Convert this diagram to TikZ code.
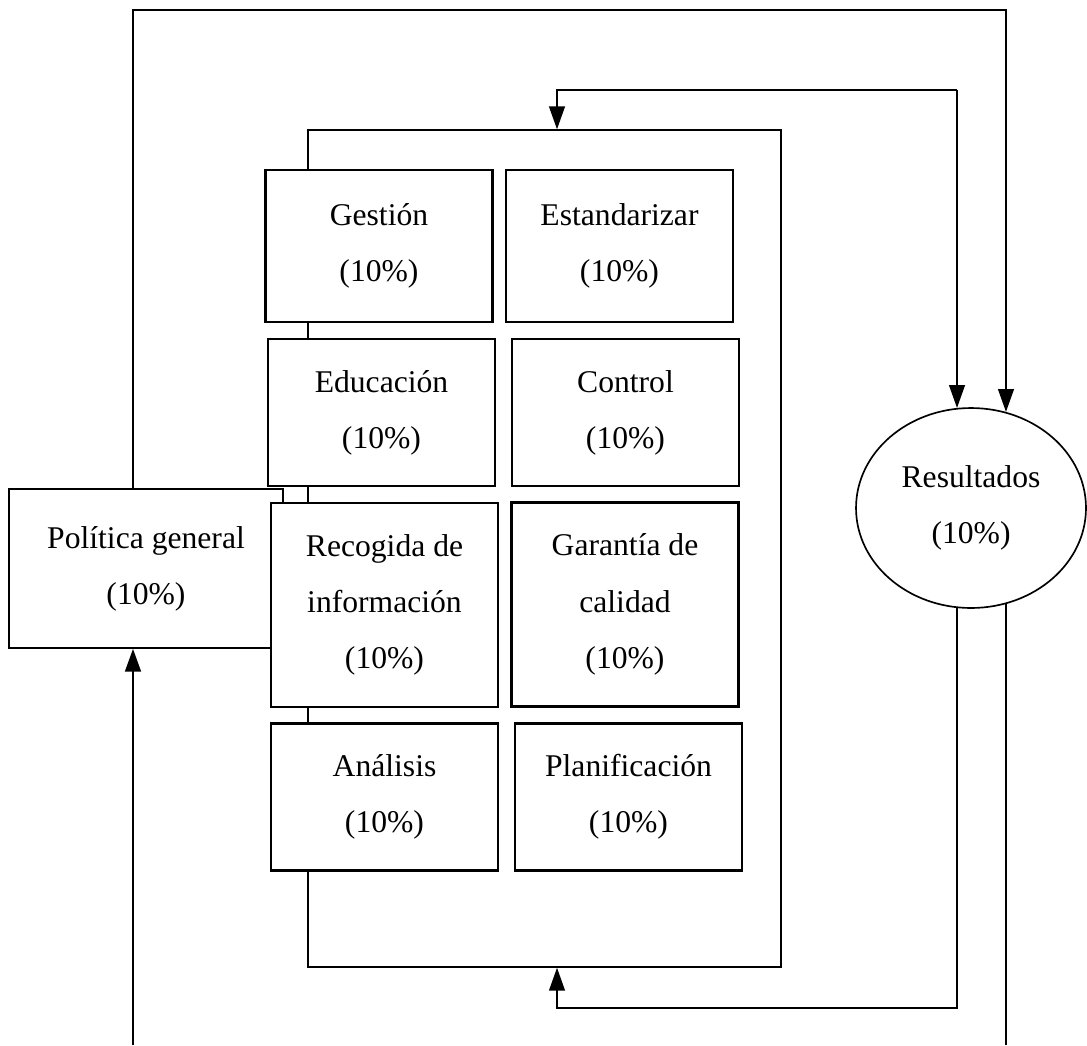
\documentclass[tikz,border=0pt]{standalone}
\usepackage{fontspec}
\setmainfont{Liberation Serif}
\usetikzlibrary{arrows.meta,shapes.geometric}

\begin{document}
\begin{tikzpicture}[x=0.02cm, y=-0.02cm,
  wire/.style={line width=0.95pt},
  arrow/.style={wire, -{Triangle[length=13pt, width=9pt]}},
  txt/.style={align=center, inner sep=0pt, font=\fontsize{18}{32}\selectfont},
  box/.style={txt, draw, fill=white, line width=1.3pt,
              minimum width=4.54cm, minimum height=2.94cm},
  tall/.style={box, minimum height=4.08cm},
]
\useasboundingbox (0,0) rectangle (1087,1045);

% --- Frame round the eight areas ---
\node[draw, wire, inner sep=0pt, minimum width=9.46cm, minimum height=16.74cm]
  (frame) at (544.5,548.5) {};

% --- Policy and results ---
\node[txt, draw, wire, fill=white, minimum width=5.48cm, minimum height=3.18cm]
  (pol) at (146,568.5) {Política general\\(10\%)};
\node[txt, ellipse, draw, wire, minimum width=4.6cm, minimum height=4cm]
  (res) at (971,508) {Resultados\\(10\%)};

% --- Areas ---
\node[box, minimum height=3.04cm] (gest) at (379,246) {Gestión\\(10\%)};
\node[box, minimum height=3.04cm] (est) at (619.5,246) {Estandarizar\\(10\%)};
\node[box] (edu) at (381.5,412.5) {Educación\\(10\%)};
\node[box] (ctrl) at (625.5,412.5) {Control\\(10\%)};
\node[tall] (rec) at (384.5,605) {Recogida de\\información\\(10\%)};
\node[tall] (gar) at (625,604.5) {Garantía de\\calidad\\(10\%)};
\node[box] (ana) at (384.5,797) {Análisis\\(10\%)};
\node[box] (plan) at (628.5,797) {Planificación\\(10\%)};

% --- Loops ---
\coordinate (topL) at (133,10);
\coordinate (midT) at (957,90);
\coordinate (botL) at (557,1008);
\coordinate (inL) at (133,1045);
\coordinate (outR) at (1005,1045);

\draw[arrow] (pol.north -| topL) -- (topL) -| (res.70.5);
\draw[arrow] (midT) -| ([xshift=0.25cm]frame.north);
\draw[arrow] (midT) -- (midT |- res.98);
\draw[arrow] (res.-98) |- (botL) -- ([xshift=0.25cm]frame.south);
\draw[wire] (res.-70.5) -- (res.-70.5 |- outR);
\draw[arrow, line width=1.3pt] (inL) -- (inL |- pol.south);
\end{tikzpicture}
\end{document}
